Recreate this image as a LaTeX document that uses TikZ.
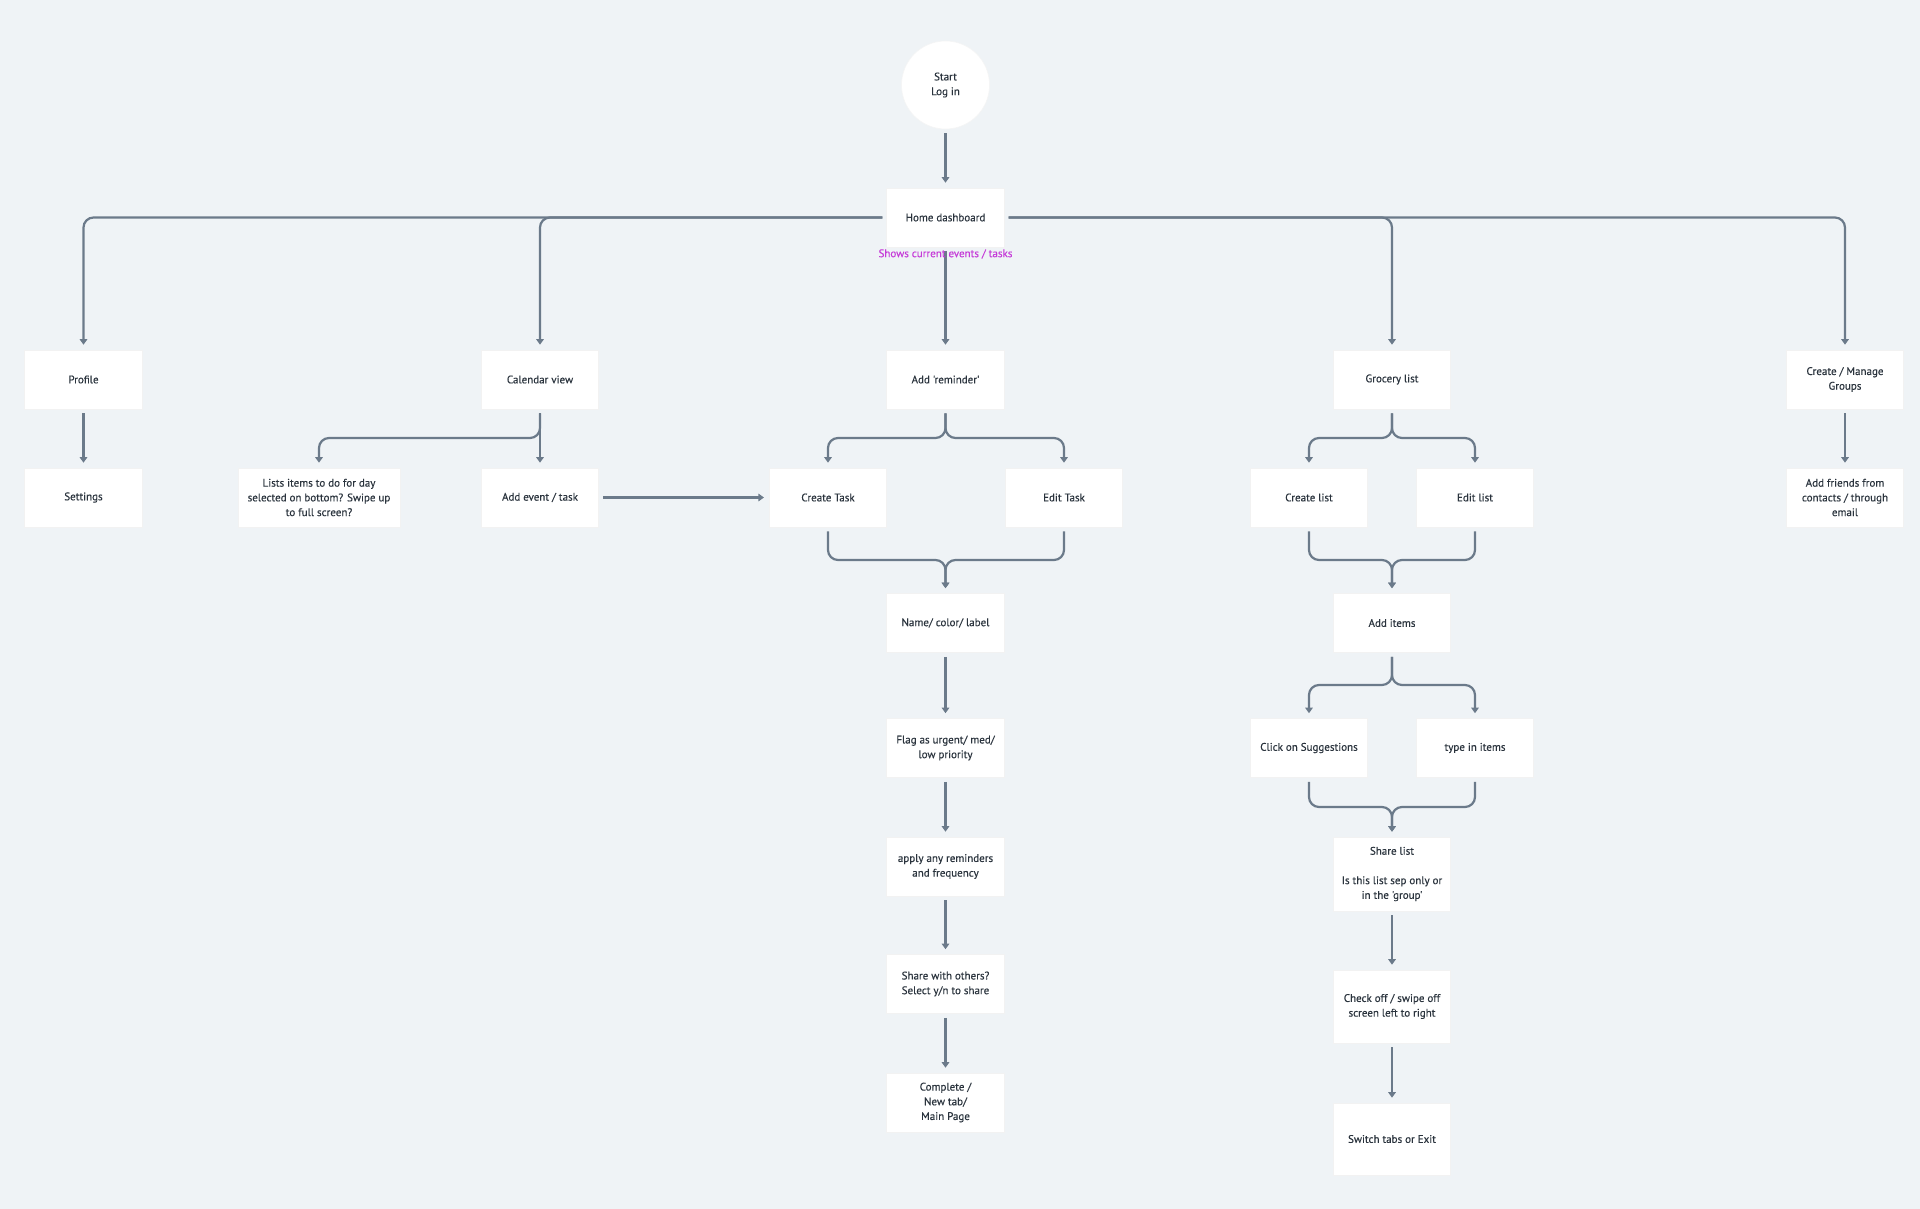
\documentclass[tikz,border=0pt]{standalone}
\usepackage{fontspec}
\setmainfont{PT Sans}
\newfontfamily\boxfont{PT Sans}[FakeBold=0.35]
\usetikzlibrary{arrows.meta}
\definecolor{bg}{HTML}{EFF3F6}
\definecolor{ln}{HTML}{6B7A8A}
\definecolor{tx}{HTML}{2A333D}
\definecolor{mag}{HTML}{C53AD8}
\begin{document}
\begin{tikzpicture}[x=1pt,y=-1pt,
  box/.style={fill=white, draw=black!5, line width=0.6pt, minimum width=117.5pt, minimum height=59pt,
    inner sep=2pt, align=center, text=tx, font=\boxfont\fontsize{11}{14.7}\selectfont},
  wire/.style={draw=ln, line width=2.2pt, rounded corners=10pt, shorten <=4pt},
  conn/.style={wire, -{Triangle[width=7.5pt,length=5.5pt]}, shorten >=5pt},
  note/.style={text=mag, font=\boxfont\fontsize{11}{14.7}\selectfont, inner sep=1pt}
]
\fill[bg] (0,0) rectangle (1920,1209);
\useasboundingbox (0,0) rectangle (1920,1209);

% nodes
\node[box, circle, minimum size=88pt, draw=black!4] (start) at (945.5,85) {Start\\Log in};
\node[box] (home) at (945.5,217.5) {Home dashboard};

\node[box] (profile) at (83.5,379.5) {Profile};
\node[box] (cal) at (540,379.5) {Calendar view};
\node[box] (addrem) at (945.5,379.5) {Add 'reminder'};
\node[box] (groc) at (1392,379.5) {Grocery list};
\node[box] (groups) at (1845,379.5) {Create / Manage\\Groups};

\node[box] (settings) at (83.5,497.5) {Settings};
\node[box, minimum width=162pt] (lists) at (319,497.5) {Lists items to do for day\\selected on bottom? Swipe up\\to full screen?};
\node[box] (addev) at (540,497.5) {Add event / task};
\node[box] (ctask) at (828,497.5) {Create Task};
\node[box] (etask) at (1064,497.5) {Edit Task};
\node[box] (clist) at (1309,497.5) {Create list};
\node[box] (elist) at (1475,497.5) {Edit list};
\node[box] (friends) at (1845,497.5) {Add friends from\\contacts / through\\email};

\node[box] (name) at (945.5,623) {Name/ color/ label};
\node[box] (additems) at (1392,623) {Add items};

\node[box] (flag) at (945.5,748) {Flag as urgent/ med/\\low priority};
\node[box] (click) at (1309,748) {Click on Suggestions};
\node[box] (type) at (1475,748) {type in items};

\node[box] (apply) at (945.5,866.5) {apply any reminders\\and frequency};
\node[box, minimum height=74pt] (share) at (1392,874) {Share list\\\mbox{}\\Is this list sep only or\\in the 'group'};

\node[box] (others) at (945.5,984) {Share with others?\\Select y/n to share};
\node[box, minimum height=73pt] (check) at (1392,1006.5) {Check off / swipe off\\screen left to right};

\node[box] (complete) at (945.5,1102.5) {Complete /\\New tab/\\Main Page};
\node[box, minimum height=72pt] (switch) at (1392,1139) {Switch tabs or Exit};

% fork / merge points
\coordinate (fa) at (945.5,438);
\coordinate (fb) at (540,438);
\coordinate (fc) at (1392,438);
\coordinate (fd) at (945.5,560);
\coordinate (fe) at (1392,560);
\coordinate (ff) at (1392,685);
\coordinate (fg) at (1392,807);

% connectors
\draw[conn] (start.south) -- (home.north);
\draw[conn] (home.west) -| (profile.north);
\draw[conn] (home.west) -| (cal.north);
\draw[conn] (home.east) -| (groc.north);
\draw[conn] (home.east) -| (groups.north);
\draw[conn] (home.south) -- (addrem.north);

\draw[conn] (profile.south) -- (settings.north);
\draw[conn] (cal.south) -- (fb) -| (lists.north);
\draw[conn] (cal.south) -- (addev.north);
\draw[conn] (addev.east) -- (ctask.west);

\draw[conn] (addrem.south) -- (fa) -| (ctask.north);
\draw[conn] (addrem.south) -- (fa) -| (etask.north);
\draw[conn] (ctask.south) |- (fd) -- (name.north);
\draw[conn] (etask.south) |- (fd) -- (name.north);
\draw[conn] (name.south) -- (flag.north);
\draw[conn] (flag.south) -- (apply.north);
\draw[conn] (apply.south) -- (others.north);
\draw[conn] (others.south) -- (complete.north);

\draw[conn] (groc.south) -- (fc) -| (clist.north);
\draw[conn] (groc.south) -- (fc) -| (elist.north);
\draw[conn] (clist.south) |- (fe) -- (additems.north);
\draw[conn] (elist.south) |- (fe) -- (additems.north);
\draw[conn] (additems.south) -- (ff) -| (click.north);
\draw[conn] (additems.south) -- (ff) -| (type.north);
\draw[conn] (click.south) |- (fg) -- (share.north);
\draw[conn] (type.south) |- (fg) -- (share.north);
\draw[conn] (share.south) -- (check.north);
\draw[conn] (check.south) -- (switch.north);

\draw[conn] (groups.south) -- (friends.north);

\node[note] (shows) at (945.5,254) {Shows current events / tasks};
\end{tikzpicture}
\end{document}
